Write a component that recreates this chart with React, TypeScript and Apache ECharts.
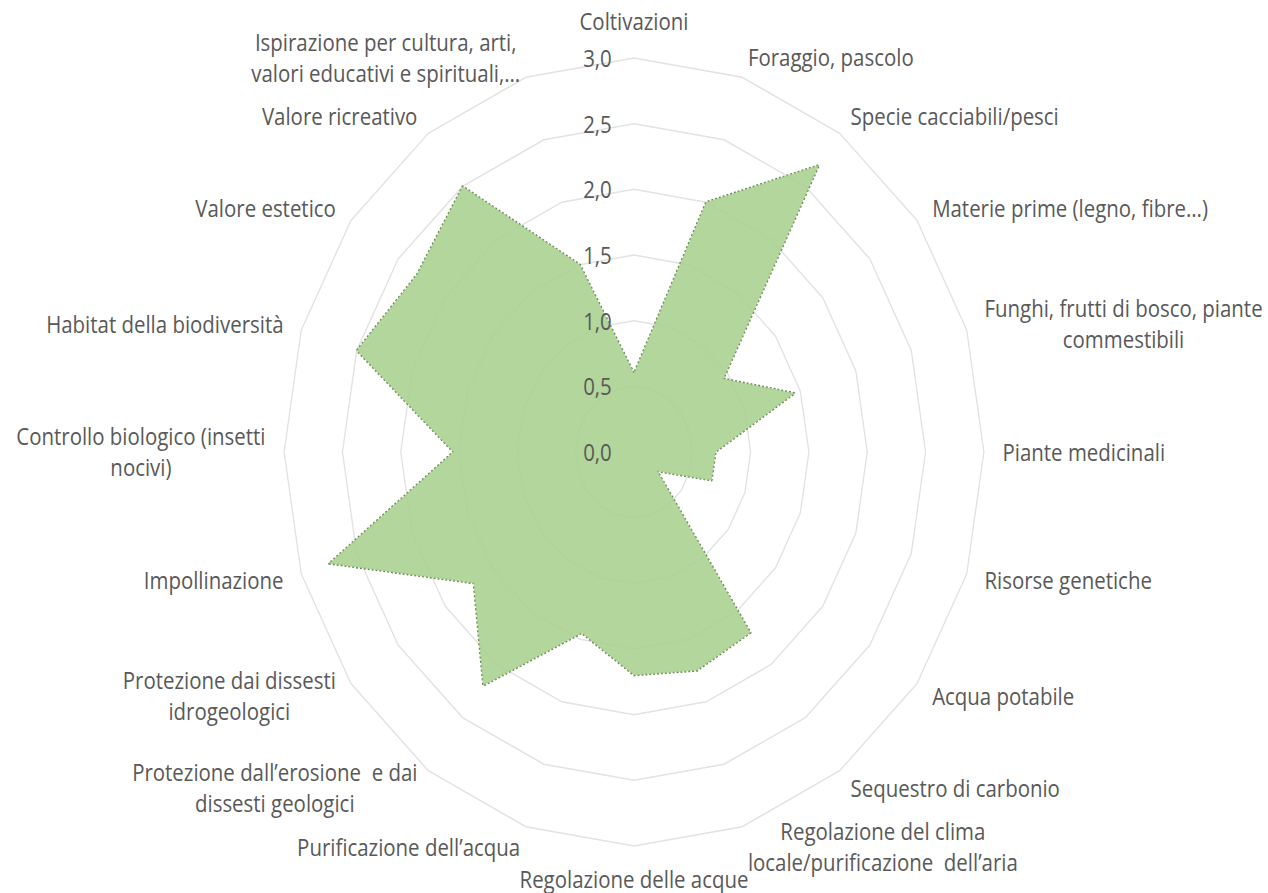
import React, { useEffect, useRef } from "react";
import * as echarts from "echarts";

// Categories, clockwise from the top
const categories: string[] = [
  "Coltivazioni",
  "Foraggio, pascolo",
  "Specie cacciabili/pesci",
  "Materie prime (legno, fibre…)",
  "Funghi, frutti di bosco, piante\ncommestibili",
  "Piante medicinali",
  "Risorse genetiche",
  "Acqua potabile",
  "Sequestro di carbonio",
  "Regolazione del clima\nlocale/purificazione  dell’aria",
  "Regolazione delle acque",
  "Purificazione dell’acqua",
  "Protezione dall’erosione  e dai\ndissesti geologici",
  "Protezione dai dissesti\nidrogeologici",
  "Impollinazione",
  "Controllo biologico (insetti\nnocivi)",
  "Habitat della biodiversità",
  "Valore estetico",
  "Valore ricreativo",
  "Ispirazione per cultura, arti,\nvalori educativi e spirituali,…",
];

const values: number[] = [
  0.6, 2.0, 2.7, 0.95, 1.45, 0.7, 0.7, 0.25, 1.7, 1.75,
  1.7, 1.45, 2.2, 1.7, 2.75, 1.55, 2.5, 2.3, 2.5, 1.5,
];

const axisMin = 0;
const axisMax = 3;
const axisStep = 0.5;

// layout
const SX = 0.888;
const W = 1268;
const H = 893;
const CHART_W = Math.round(W / SX);
const FONT = "'Open Sans', 'Noto Sans', sans-serif";
const TEXT_COLOR = "#595959";
const FS = 23;

const tightNames: Record<string, boolean> = {
  "Regolazione delle acque": true,
};

export default function App() {
  const ref = useRef<HTMLDivElement>(null);
  useEffect(() => {
    if (!ref.current) return;
    const chart = echarts.init(ref.current, null, { renderer: "svg" });
    // ECharts lays radar indicators counter-clockwise; reorder to draw clockwise
    const order = [0, ...categories.map((_, i) => i).slice(1).reverse()];
    const baseRich = {
      color: TEXT_COLOR,
      fontSize: FS,
      fontFamily: FONT,
      lineHeight: 31,
      align: "center",
    };
    const common = {
      center: [634 / SX, 452],
      radius: 394,
      startAngle: 90,
      splitNumber: (axisMax - axisMin) / axisStep,
      shape: "polygon",
      axisLine: { show: false },
      axisTick: { show: false },
      splitArea: { show: false },
    };
    chart.setOption({
      animation: false,
      backgroundColor: "#ffffff",
      radar: [
        {
          ...common,
          z: 0,
          nameGap: 21,
          axisName: {
            color: TEXT_COLOR,
            fontSize: FS,
            fontFamily: FONT,
            lineHeight: 31,
            formatter: (name: string) => {
              const key = tightNames[name] ? "t" : "c";
              return name
                .split("\n")
                .map((l) => `{${key}|${l}}`)
                .join("\n");
            },
            rich: {
              c: { ...baseRich },
              t: { ...baseRich, lineHeight: 23 },
            },
          },
          axisLabel: { show: false },
          splitLine: { lineStyle: { color: "#e2e2e2", width: 1.5 } },
          indicator: order.map((i) => ({
            name: categories[i],
            min: axisMin,
            max: axisMax,
          })),
        },
        {
          ...common,
          z: 3,
          axisName: { show: false },
          axisLabel: { show: false },
          splitLine: { show: false },
          indicator: order.map((i, k) => {
            const ind: any = { name: categories[i], min: axisMin, max: axisMax };
            if (k === 0) {
              ind.axisLabel = {
                show: true,
                color: TEXT_COLOR,
                fontSize: FS,
                fontFamily: FONT,
                margin: 25,
                formatter: (v: number) =>
                  Number(v).toFixed(1).replace(".", ","),
              };
            }
            return ind;
          }),
        },
      ],
      series: [
        {
          type: "radar",
          radarIndex: 0,
          z: 2,
          symbol: "none",
          data: [
            {
              value: order.map((i) => values[i]),
              lineStyle: { type: "dotted", width: 2.2, color: "#6a8757" },
              areaStyle: { color: "#a9d08e", opacity: 0.88 },
            },
          ],
        },
      ],
    });
    return () => chart.dispose();
  }, []);
  return (
    <div
      style={{
        position: "fixed",
        left: 0,
        top: 0,
        width: W,
        height: H,
        overflow: "hidden",
        background: "#fff",
      }}
    >
      <div
        ref={ref}
        style={{
          width: CHART_W,
          height: H,
          transform: `scaleX(${SX})`,
          transformOrigin: "0 0",
        }}
      />
    </div>
  );
}
